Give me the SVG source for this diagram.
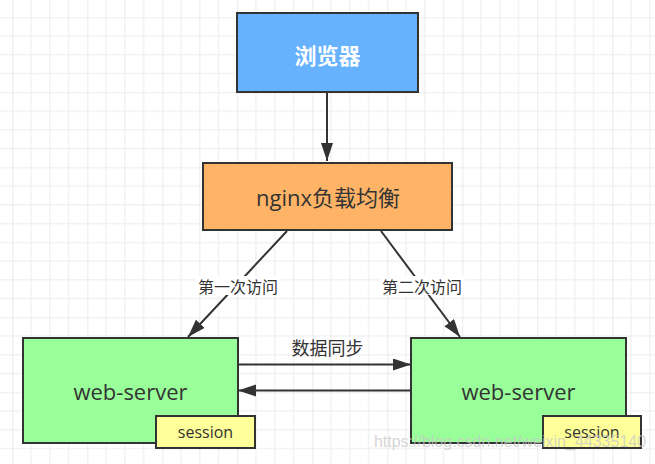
<svg xmlns="http://www.w3.org/2000/svg" width="655" height="464" viewBox="0 0 655 464">
<style>
.box{stroke:#333333;stroke-width:2}
.t{font-family:"Open Sans","Noto Sans CJK SC",sans-serif;fill:#333333;text-anchor:middle}
.c{font-family:"Noto Sans CJK SC","Open Sans",sans-serif;fill:#333333;text-anchor:middle;dominant-baseline:central}
.edge{stroke:#333333;stroke-width:2;fill:none;marker-end:url(#arr)}
</style>
<defs>
<pattern id="grid" x="12.3" y="17.3" width="75" height="75" patternUnits="userSpaceOnUse">
<path d="M18.75 0V75M37.5 0V75M56.25 0V75M0 18.75H75M0 37.5H75M0 56.25H75" stroke="#ececec" stroke-width="1"/>
<path d="M0 0V75M0 0H75" stroke="#dddddd" stroke-width="1.2"/>
</pattern>
<marker id="arr" markerUnits="userSpaceOnUse" markerWidth="20" markerHeight="14" refX="18" refY="6" orient="auto">
<path d="M0 0L18 6L0 12Z" fill="#333333"/>
</marker>
</defs>
<rect width="655" height="464" fill="#ffffff"/>
<rect width="655" height="464" fill="url(#grid)"/>

<g id="connectors">
<line class="edge" x1="327" y1="92" x2="327" y2="161"/>
<line class="edge" x1="287" y1="231" x2="188" y2="337"/>
<line class="edge" x1="381" y1="231" x2="460" y2="337"/>
<line class="edge" x1="238" y1="364.5" x2="411" y2="364.5"/>
<line class="edge" x1="411" y1="390.5" x2="238" y2="390.5"/>
<rect x="195" y="276" width="86" height="19" fill="#ffffff"/>
<text class="c" x="238" y="285.5" font-size="16">第一次访问</text>
<rect x="379" y="276" width="86" height="19" fill="#ffffff"/>
<text class="c" x="422" y="285.5" font-size="16">第二次访问</text>
<text class="c" x="327.5" y="346.5" font-size="18">数据同步</text>
</g>

<g id="browser">
<rect class="box" x="237" y="13" width="181" height="79" fill="#66b2ff"/>
<text class="c" x="327.5" y="54" font-size="22" font-weight="bold" fill="#ffffff" style="fill:#ffffff">浏览器</text>
</g>

<g id="nginx">
<rect class="box" x="203" y="163" width="249" height="67" fill="#ffb366"/>
<text class="t" x="328" y="206" font-size="22">nginx负载均衡</text>
</g>

<g id="web-server-1">
<rect class="box" x="23" y="338" width="215" height="105" fill="#99ff99"/>
<text class="t" x="130.5" y="400" font-size="22">web-server</text>
</g>
<g id="session-1">
<rect class="box" x="156" y="416" width="99" height="32" fill="#ffff99"/>
<text class="t" x="205.5" y="437.5" font-size="16">session</text>
</g>

<g id="web-server-2">
<rect class="box" x="411" y="338" width="215" height="105" fill="#99ff99"/>
<text class="t" x="518.5" y="400" font-size="22">web-server</text>
</g>
<g id="session-2">
<rect class="box" x="543" y="416" width="98" height="32" fill="#ffff99"/>
<text class="t" x="592" y="437.5" font-size="16">session</text>
</g>

<text x="510" y="447" font-family="'Liberation Sans',sans-serif" font-size="16" fill="#c8c8c8" fill-opacity="0.75" text-anchor="middle">https://blog.csdn.net/weixin_44335140</text>
</svg>
